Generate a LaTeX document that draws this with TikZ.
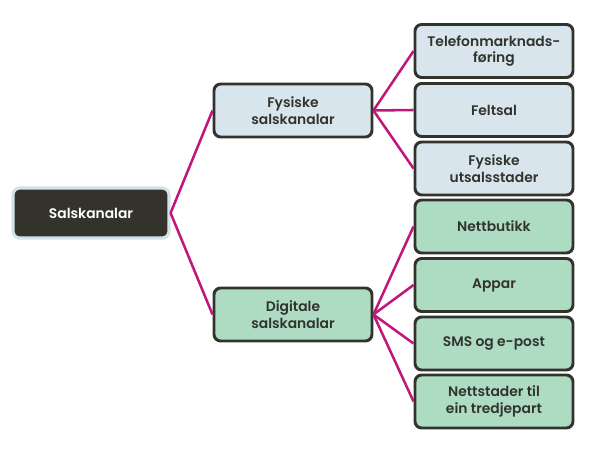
\documentclass[tikz,border=0pt]{standalone}
\usepackage{fontspec}
\setmainfont{Poppins}[BoldFont={Poppins SemiBold}]
\definecolor{edgec}{HTML}{C0177C}
\definecolor{boxline}{HTML}{33332E}
\definecolor{bluef}{HTML}{D9E5EC}
\definecolor{greenf}{HTML}{AEDCC3}
\definecolor{rootf}{HTML}{33332B}
\definecolor{ring}{HTML}{D3E2EA}
\definecolor{txt}{HTML}{33332E}
\begin{document}
\begin{tikzpicture}[x=0.75pt,y=-0.75pt,
  base/.style={rectangle,rounded corners=5pt,line width=2.2pt,draw=boxline,
    align=center,font=\bfseries\fontsize{10.4}{12.6}\selectfont,text=txt,inner sep=0pt},
  bluebox/.style={base,fill=bluef},
  greenbox/.style={base,fill=greenf},
  mid/.style={minimum width=158*0.75pt,minimum height=53*0.75pt},
  leaf/.style={minimum width=158*0.75pt,minimum height=53*0.75pt},
  rootbox/.style={base,fill=rootf,draw=ring,line width=2.4pt,text=white,
    minimum width=156*0.75pt,minimum height=50*0.75pt},
  conn/.style={draw=edgec,line width=1.9pt}]
\useasboundingbox (0,0) rectangle (590,450);
\node[rootbox] (root) at (91,213) {Salskanalar};
\node[bluebox,mid] (fys) at (293,110.5) {Fysiske\\salskanalar};
\node[greenbox,mid] (dig) at (293,314.5) {Digitale\\salskanalar};
\node[bluebox,leaf] (tel) at (494,51) {Telefonmarknads-\\føring};
\node[bluebox,leaf] (fel) at (494,110) {Feltsal};
\node[bluebox,leaf] (uts) at (494,168.5) {Fysiske\\utsalsstader};
\node[greenbox,leaf] (net) at (494,226.5) {Nettbutikk};
\node[greenbox,leaf] (app) at (494,285) {Appar};
\node[greenbox,leaf] (sms) at (494,343.5) {SMS og e-post};
\node[greenbox,leaf] (tre) at (494,401.5) {Nettstader til\\ein tredjepart};
\draw[conn] (root.east) -- (fys.west);
\draw[conn] (root.east) -- (dig.west);
\foreach \c in {tel,fel,uts} \draw[conn] (fys.east) -- (\c.west);
\foreach \c in {net,app,sms,tre} \draw[conn] (dig.east) -- (\c.west);
\end{tikzpicture}
\end{document}
